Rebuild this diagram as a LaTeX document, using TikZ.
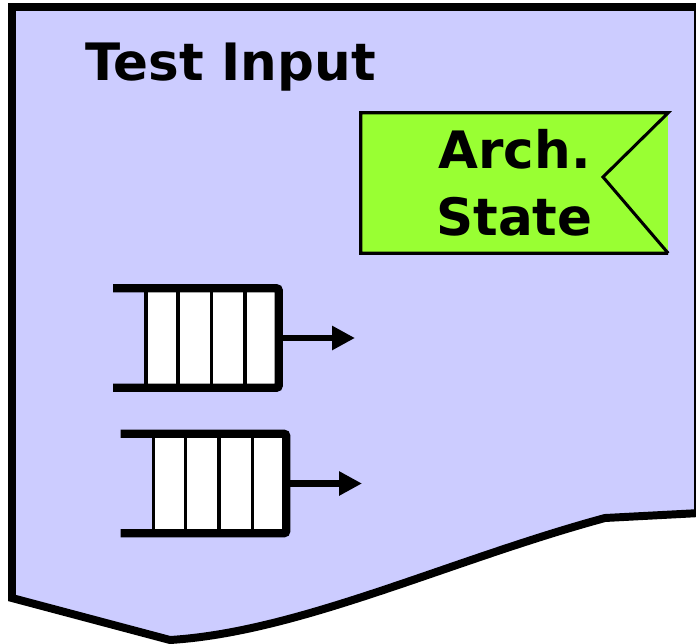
\documentclass[tikz,border=0pt]{standalone}
\usepackage{fontspec}
\setmainfont{DejaVu Sans}
\usetikzlibrary{calc,arrows.meta}
\definecolor{Paper}{RGB}{204,204,255}
\definecolor{StateGreen}{RGB}{153,255,51}

\begin{document}
\begin{tikzpicture}[x=0.03cm, y=-0.03cm]
	\tikzstyle{big text}=[font=\bfseries\fontsize{44}{57}\selectfont, inner sep=0pt];
	\tikzstyle{queue}=[draw, fill=white, line width=3pt, minimum width=3.93cm, minimum height=2.88cm, inner sep=0pt];
	\tikzstyle{queue frame}=[line width=7pt, rounded corners=2pt];
	\tikzstyle{flow}=[line width=5.5pt, -{Triangle[length=0.69cm, width=0.69cm]}];
	\tikzstyle{state box}=[big text, fill=StateGreen, minimum width=9.21cm, minimum height=4.2cm, align=center];
	\useasboundingbox (0,0) rectangle (696,644);
	% the test input sheet
	\fill[Paper] (695,7) -- (12,7) -- (12,598) -- (170,640) .. controls (300,632) and (450,560) .. (605,518) -- (695,513) -- cycle;
	\draw[line width=1.7pt] (695,7) -- (695,513);
	\draw[line width=6.8pt] (700,7) -- (12,7) -- (12,598) -- (170,640) .. controls (300,632) and (450,560) .. (605,518) -- (700,513);
	\node[big text, anchor=base west] (title) at (85,80) {Test Input};
	% architectural state
	\node[state box] (arch) at (514.5,183) {Arch.\\State};
	\coordinate (notch) at (603,177);
	\draw[line width=2.6pt] (arch.south east) -- (arch.south west) -- (arch.north west) -- (arch.north east) -- (notch) -- (arch.south east);
	% input queues
	\node[queue] (q1) at (211.5,338) {};
	\node[queue] (q2) at (219,483.5) {};
	\foreach \q in {q1,q2} {
		\foreach \k in {1,2,3}
			\draw[line width=3pt] ($(\q.north west)!\k/4!(\q.north east)$) -- ($(\q.south west)!\k/4!(\q.south east)$);
		\draw[queue frame] ($(\q.north west)+(-31,0)$) -- (\q.north east) -- (\q.south east) -- ($(\q.south west)+(-31,0)$);
	}
	\coordinate (q1out) at (355,338);
	\coordinate (q2out) at (362,483.5);
	\draw[flow] (q1.east) -- (q1out);
	\draw[flow] (q2.east) -- (q2out);
\end{tikzpicture}
\end{document}
